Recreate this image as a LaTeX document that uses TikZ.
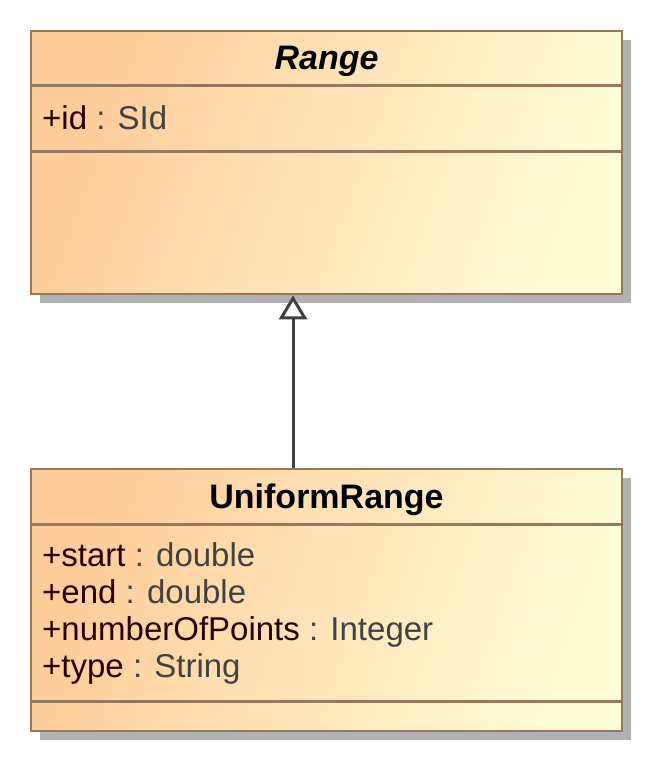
\documentclass[tikz,border=0pt]{standalone}
\usepackage{fontspec}
\setmainfont{Liberation Sans}
\usetikzlibrary{arrows.meta, positioning, shadows}

\definecolor{boxorange}{RGB}{254,204,152}
\definecolor{boxyellow}{RGB}{255,253,216}
\definecolor{boxborder}{RGB}{152,120,90}
\definecolor{shadowgray}{RGB}{178,178,178}
\definecolor{typegray}{RGB}{66,66,66}
\definecolor{namebrown}{RGB}{38,0,0}
\definecolor{linegray}{RGB}{64,64,64}

\begin{document}
\begin{tikzpicture}[x=1pt, y=-1pt,
    % Define styles
    classbox/.style={rectangle, draw=boxborder, line width=2.8pt, minimum width=591pt, inner sep=0pt,
        left color=boxorange, right color=boxyellow, shading angle=70,
        drop shadow={shadow xshift=9pt, shadow yshift=-9pt, fill=shadowgray, opacity=1}},
    compartment/.style={rectangle, minimum width=591pt, inner sep=0pt, outer sep=0pt},
    classname/.style={font=\fontsize{34}{37}\selectfont\bfseries, text depth=0pt},
    attr/.style={anchor=base west, inner sep=0pt, font=\fontsize{33}{37}\selectfont},
    divider/.style={draw=boxborder, line width=2.8pt},
    generalization/.style={draw=linegray, line width=3pt, -{Triangle[fill=white, length=24pt, width=28pt]}}
]

\useasboundingbox (0,0) rectangle (653,763);

% Classes
\node[classbox, minimum height=263pt] (range) at (326.5,162.5) {};
\node[classbox, minimum height=262pt] (uniform) at (326.5,600) {};

% Range compartments
\node[compartment, classname, minimum height=56pt, below=0pt of range.north] (rangetitle) {\textit{Range}};
\node[compartment, minimum height=66pt, below=0pt of rangetitle] (rangeattrs) {};
\draw[divider] (rangetitle.south west) -- (rangetitle.south east);
\draw[divider] (rangeattrs.south west) -- (rangeattrs.south east);

% Range attributes
\node[attr] (rangeid) at (42,129) {{\color{namebrown}+id} {\color{typegray}: SId}};

% UniformRange compartments
\node[compartment, classname, minimum height=57pt, below=0pt of uniform.north] (uniformtitle) {UniformRange};
\node[compartment, minimum height=177pt, below=0pt of uniformtitle] (uniformattrs) {};
\draw[divider] (uniformtitle.south west) -- (uniformtitle.south east);
\draw[divider] (uniformattrs.south west) -- (uniformattrs.south east);

% UniformRange attributes
\node[attr] (start) at (42,566) {{\color{namebrown}+start} {\color{typegray}: double}};
\node[attr] (end) at (42,603) {{\color{namebrown}+end} {\color{typegray}: double}};
\node[attr] (points) at (42,640) {{\color{namebrown}+numberOfPoints} {\color{typegray}: Integer}};
\node[attr] (type) at (42,677) {{\color{namebrown}+type} {\color{typegray}: String}};

% Generalization
\draw[generalization] ([xshift=-33.5pt]uniform.north) -- ([xshift=-33.5pt]range.south);

\end{tikzpicture}
\end{document}
